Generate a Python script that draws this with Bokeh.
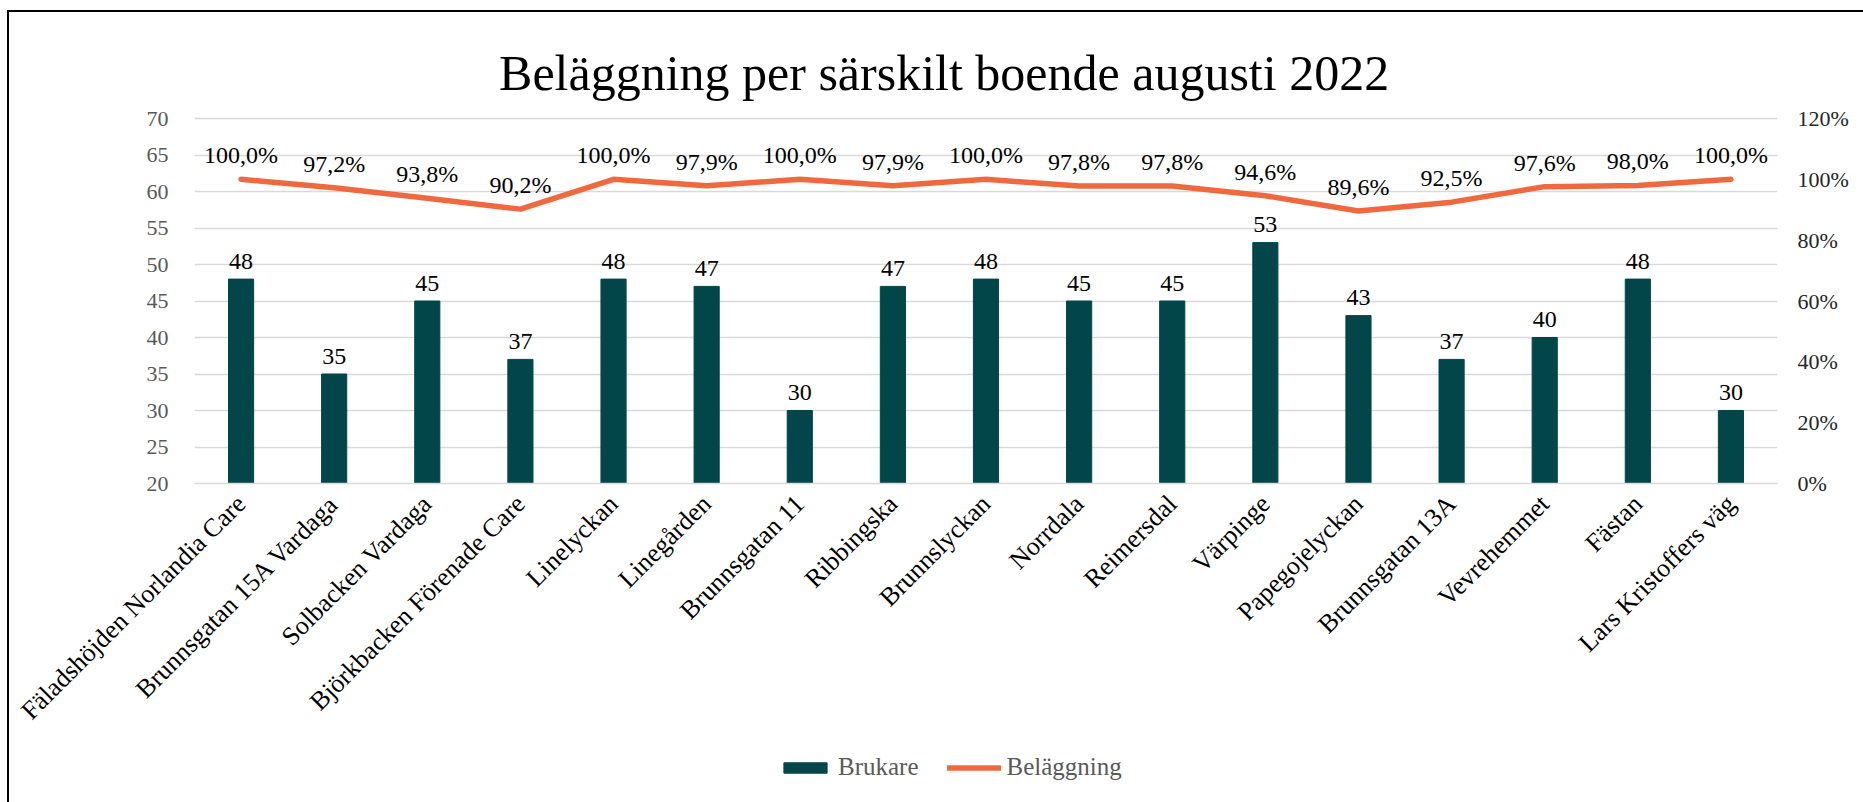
import math
from bokeh.plotting import figure
from bokeh.layouts import column
from bokeh.models import (ColumnDataSource, Range1d, LinearAxis, FixedTicker,
                          PrintfTickFormatter, Legend, LegendItem, Label, FactorRange)
from bokeh.core.properties import value
from bokeh.embed import file_html
from bokeh.resources import INLINE

# ---------------- data ----------------
categories = [
    "Fäladshöjden Norlandia Care", "Brunnsgatan 15A Vardaga", "Solbacken Vardaga",
    "Björkbacken Förenade Care", "Linelyckan", "Linegården", "Brunnsgatan 11",
    "Ribbingska", "Brunnslyckan", "Norrdala", "Reimersdal", "Värpinge",
    "Papegojelyckan", "Brunnsgatan 13A", "Vevrehemmet", "Fästan", "Lars Kristoffers väg",
]
brukare = [48, 35, 45, 37, 48, 47, 30, 47, 48, 45, 45, 53, 43, 37, 40, 48, 30]
belaggning = [100.0, 97.2, 93.8, 90.2, 100.0, 97.9, 100.0, 97.9, 100.0, 97.8, 97.8,
              94.6, 89.6, 92.5, 97.6, 98.0, 100.0]
left_ticks = [20, 25, 30, 35, 40, 45, 50, 55, 60, 65, 70]
right_ticks = [0, 20, 40, 60, 80, 100, 120]
title_text = "Beläggning per särskilt boende augusti 2022"
series_names = ["Brukare", "Beläggning"]

# ---------------- style / layout ----------------
FONT = "Liberation Serif"
BAR_COLOR = "#02464A"
LINE_COLOR = "#F0693E"
GRID_COLOR = "#D9D9D9"
AXIS_GRAY = "#595959"

FIG_W = 1854
MAIN_H, LEG_H = 740, 50
PLOT_TOP_PX, PLOT_BOTTOM_PX = 106, 471     # canvas px of value 70 / value 20
TITLE_BASELINE_PX = 60
y_lo, y_hi = left_ticks[0], left_ticks[-1]
px_per_unit = (PLOT_BOTTOM_PX - PLOT_TOP_PX) / (y_hi - y_lo)
view_hi = y_hi + PLOT_TOP_PX / px_per_unit
pct_per_unit = (right_ticks[-1] - right_ticks[0]) / (y_hi - y_lo)
pct_hi = right_ticks[0] + (view_hi - y_lo) * pct_per_unit

src = ColumnDataSource(dict(
    cat=categories,
    brukare=brukare,
    bel=belaggning,
    blab=[str(v) for v in brukare],
    llab=[f"{v:.1f}".replace(".", ",") + "%" for v in belaggning],
))

p = figure(
    x_range=FactorRange(factors=categories),
    y_range=Range1d(y_lo, view_hi),
    width=FIG_W, height=MAIN_H,
    output_backend="svg", toolbar_location=None,
    min_border_left=185, min_border_right=86, min_border_top=0,
    min_border_bottom=MAIN_H - PLOT_BOTTOM_PX,
    outline_line_color=None,
    background_fill_color="white", border_fill_color="white",
)
p.extra_y_ranges = {"pct": Range1d(right_ticks[0], pct_hi)}

# grid
p.xgrid.grid_line_color = None
p.ygrid.grid_line_color = GRID_COLOR
p.ygrid.grid_line_width = 1.5
p.yaxis.ticker = FixedTicker(ticks=left_ticks)

# left axis
ya = p.yaxis[0]
ya.axis_line_color = None
ya.major_tick_line_color = None
ya.minor_tick_line_color = None
ya.major_label_text_font = FONT
ya.major_label_text_font_size = "22px"
ya.major_label_text_color = AXIS_GRAY
ya.major_label_standoff = 20

# right axis
ra = LinearAxis(y_range_name="pct", ticker=FixedTicker(ticks=right_ticks),
                formatter=PrintfTickFormatter(format="%d%%"))
ra.axis_line_color = None
ra.major_tick_line_color = None
ra.minor_tick_line_color = None
ra.major_label_text_font = FONT
ra.major_label_text_font_size = "22px"
ra.major_label_text_color = "#262626"
ra.major_label_standoff = 14
p.add_layout(ra, "right")

# bottom (category) axis
xa = p.xaxis[0]
xa.axis_line_color = GRID_COLOR
xa.axis_line_width = 1.5
xa.major_tick_line_color = None
xa.minor_tick_line_color = None
xa.major_label_orientation = math.pi / 4
xa.major_label_text_font = FONT
xa.major_label_text_font_size = "26px"
xa.major_label_text_color = "#000000"
xa.major_label_standoff = 10

# bars
bars = p.vbar(x="cat", top="brukare", bottom=y_lo, width=0.27, source=src,
              fill_color=BAR_COLOR, line_color=BAR_COLOR)

# line
line = p.line(x="cat", y="bel", y_range_name="pct", source=src, line_color=LINE_COLOR,
              line_width=5.5, line_cap="round", line_join="round")

# data labels
p.text(x="cat", y="brukare", text="blab", source=src, text_align="center",
       text_baseline="alphabetic", y_offset=-18, text_font=value(FONT),
       text_font_size="24px", text_color="#000000")
p.text(x="cat", y="bel", text="llab", source=src, y_range_name="pct", text_align="center",
       text_baseline="alphabetic", y_offset=-24, text_font=value(FONT),
       text_font_size="24px", text_color="#000000")

# title (inside the top of the frame)
title = Label(x=8.05, y=y_hi + (PLOT_TOP_PX - TITLE_BASELINE_PX) / px_per_unit,
              text=title_text, text_align="center", text_baseline="alphabetic",
              text_font=FONT, text_font_size="50px", text_color="#000000")
p.add_layout(title)

# ---------------- legend strip (frame aligned with the chart frame) ----------------
leg = figure(
    width=FIG_W, height=LEG_H, x_range=Range1d(0, 1), y_range=Range1d(0, 1),
    output_backend="svg", toolbar_location=None,
    x_axis_location=None, y_axis_location=None,
    min_border_left=0, min_border_right=0, min_border_top=0, min_border_bottom=0,
    outline_line_color=None,
    background_fill_color="white", border_fill_color="white",
)
leg.xgrid.grid_line_color = None
leg.ygrid.grid_line_color = None
nan = float("nan")
key_bar = leg.vbar(x=[nan], top=[nan], bottom=[nan], width=0.27,
                   fill_color=BAR_COLOR, line_color=BAR_COLOR)
key_line = leg.line(x=[nan, nan], y=[nan, nan], line_color=LINE_COLOR,
                    line_width=5.5, line_cap="round")
legend = Legend(
    items=[LegendItem(label=series_names[0], renderers=[key_bar]),
           LegendItem(label=series_names[1], renderers=[key_line])],
    location=(584, 21), orientation="horizontal",
    glyph_width=54, glyph_height=13, label_standoff=6, spacing=28,
    padding=0, margin=0, border_line_color=None, background_fill_alpha=0,
    label_text_font=FONT, label_text_font_size="25px", label_text_color=AXIS_GRAY,
)
leg.add_layout(legend)

layout = column(p, leg, spacing=0, margin=(10, 0, 0, 7),
                styles={"border-top": "2px solid #000000", "border-left": "2px solid #000000"})

open("out.html", "w").write(file_html(layout, INLINE))
